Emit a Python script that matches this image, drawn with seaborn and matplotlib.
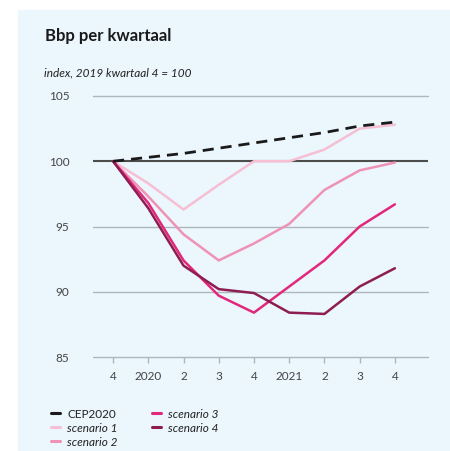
import pandas as pd
import numpy as np
import seaborn as sns
import matplotlib.pyplot as plt
from matplotlib.patches import Rectangle
from matplotlib.lines import Line2D

# Data: bbp per kwartaal, index 2019 kw4 = 100
quarters = ["4", "2020", "2", "3", "4", "2021", "2", "3", "4"]
cep2020 = [100, 100.3, 100.6, 101.0, 101.4, 101.8, 102.2, 102.7, 103.0]
scenario_1 = [100, 98.3, 96.3, 98.2, 100.0, 100.0, 100.9, 102.5, 102.8]
scenario_2 = [100, 97.3, 94.4, 92.4, 93.7, 95.2, 97.8, 99.3, 99.9]
scenario_3 = [100, 96.8, 92.4, 89.7, 88.4, 90.4, 92.4, 95.0, 96.7]
scenario_4 = [100, 96.4, 92.0, 90.2, 89.9, 88.4, 88.3, 90.4, 91.8]

series_names = ["CEP2020", "scenario 1", "scenario 2", "scenario 3", "scenario 4"]
colors = ["#1a1a1a", "#f6bfd3", "#ef93b6", "#e2287a", "#8e1d52"]
bg = "#ebf6fd"

df = pd.DataFrame({
    "x": list(range(len(quarters))) * 5,
    "waarde": cep2020 + scenario_1 + scenario_2 + scenario_3 + scenario_4,
    "reeks": np.repeat(series_names, len(quarters)),
})

sns.set_style("white")
plt.rcParams["font.family"] = ["Lato", "DejaVu Sans"]

fig = plt.figure(figsize=(4.5, 4.51), dpi=100)
fig.patches.append(Rectangle((18 / 450, 0), 1, 1 - 10 / 451,
                             transform=fig.transFigure, color=bg, zorder=-5))

ax = fig.add_axes([93 / 450, 1 - 357 / 451, 335 / 450, 261 / 451])
ax.set_zorder(2)
ax.set_facecolor(bg)

# gridlines
for yv in [85, 90, 95, 105]:
    ax.axhline(yv, color="#aeb7bc", lw=1.0, zorder=1, clip_on=False)
ax.axhline(100, color="#4d4d4d", lw=1.5, zorder=2)

sns.lineplot(data=df, x="x", y="waarde", hue="reeks", hue_order=series_names,
             palette=colors, ax=ax, legend=False, lw=1.8, zorder=3)
# CEP2020 dashed
ax.lines[-5].set_linestyle((0, (4, 2.5)))
ax.lines[-5].set_linewidth(2.0)
ax.lines[-5].set_zorder(5)

ax.set_xlim(-0.57, 8.94)
ax.set_ylim(85, 105)
ax.set_xticks(range(len(quarters)))
ax.set_xticklabels(quarters)
ax.set_yticks([85, 90, 95, 100, 105])
ax.tick_params(axis="x", bottom=True, length=4, width=1, color="#aeb7bc", pad=6,
               labelsize=8.5, labelcolor="#444444", direction="out")
ax.tick_params(axis="y", left=False, length=0, pad=17, labelsize=8.5,
               labelcolor="#444444")
ax.set_xlabel("")
ax.set_ylabel("")
for s in ax.spines.values():
    s.set_visible(False)

fig.text(45 / 450, 1 - 36 / 451, "Bbp per kwartaal", fontsize=12,
         fontweight="bold", color="#1a1a1a", va="center")
fig.text(44 / 450, 1 - 73 / 451, "index, 2019 kwartaal 4 = 100", fontsize=8.5,
         style="italic", color="#222222", va="center")

handles = [Line2D([], [], color=c, lw=2.2) for c in colors]
leg = fig.legend(handles, series_names, ncol=2, loc="upper left",
                 bbox_to_anchor=(40 / 450, 1 - 398 / 451), frameon=False,
                 handlelength=0.8, handletextpad=0.6, columnspacing=2.9,
                 labelspacing=0.25, fontsize=8.5)
for t in leg.get_texts():
    t.set_color("#222222")
    if t.get_text() != "CEP2020":
        t.set_style("italic")

fig.savefig("out.png", dpi=100)
